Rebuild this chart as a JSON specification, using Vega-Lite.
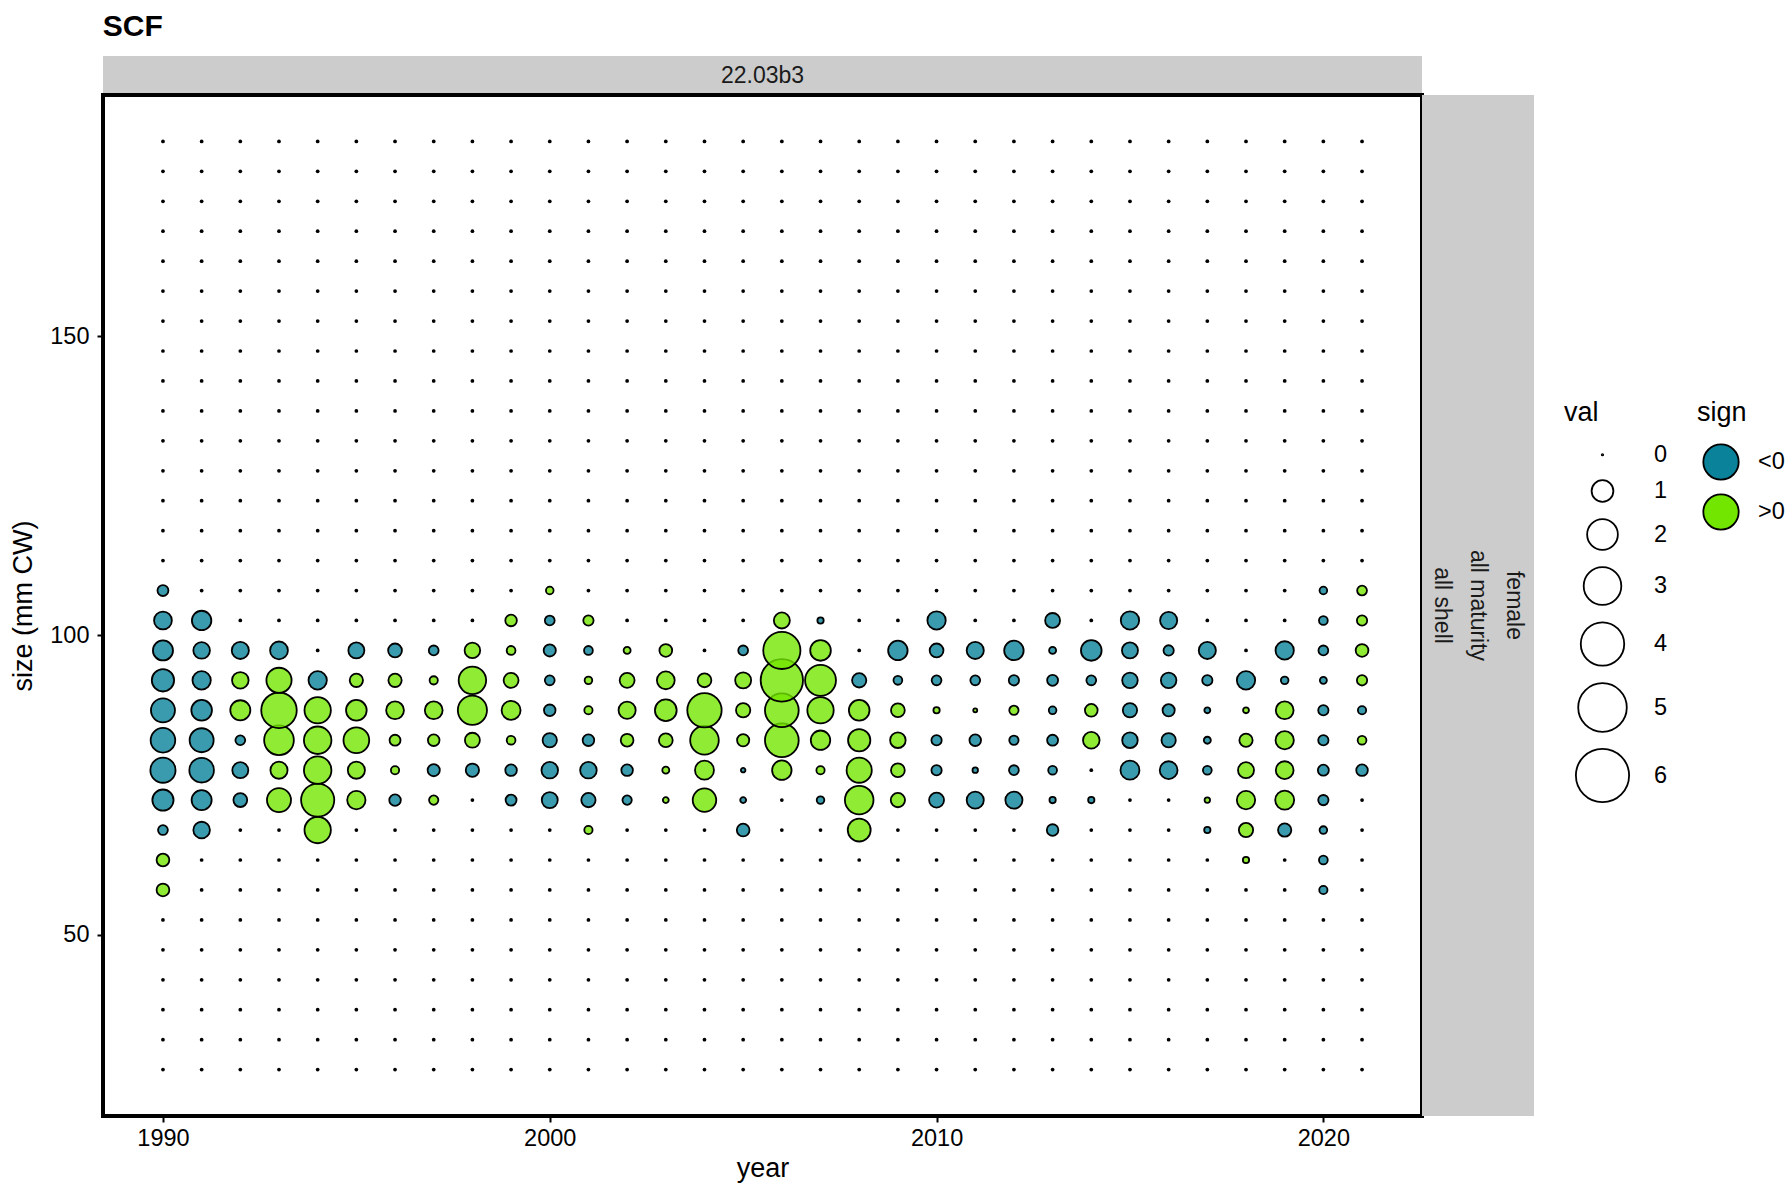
{
"$schema":"https://vega.github.io/schema/vega-lite/v6.json",
"background":"white",
"padding":{"left":7,"top":12,"right":5,"bottom":5},
"title":{"text":"SCF","anchor":"start","fontSize":30,"fontWeight":"bold","font":"Liberation Sans","color":"black","offset":14,"dx":95},
"config":{"font":"Liberation Sans","axis":{"grid":false,"domain":false,"tickColor":"black","tickWidth":2,"tickSize":6,"labelFontSize":23.5,"labelColor":"black","titleFontSize":27,"titleFontWeight":"normal","titleColor":"black","labelFont":"Liberation Sans","titleFont":"Liberation Sans"},"legend":{"titleFontSize":27,"titleFontWeight":"normal","labelFontSize":23.5,"titleColor":"black","labelColor":"black","titleFont":"Liberation Sans","labelFont":"Liberation Sans","titlePadding":16}},
"bounds":"flush",
"spacing":0,
"datasets":{"grid":[
{"year":1990,"size":27.5,"val":0},{"year":1990,"size":32.5,"val":0},{"year":1990,"size":37.5,"val":0},{"year":1990,"size":42.5,"val":0},{"year":1990,"size":47.5,"val":0},{"year":1990,"size":52.5,"val":0},
{"year":1990,"size":57.5,"val":0.34,"sign":">0"},{"year":1990,"size":62.5,"val":0.34,"sign":">0"},{"year":1990,"size":67.5,"val":0.2,"sign":"<0"},{"year":1990,"size":72.5,"val":0.95,"sign":"<0"},{"year":1990,"size":77.5,"val":1.34,"sign":"<0"},{"year":1990,"size":82.5,"val":1.28,"sign":"<0"},{"year":1990,"size":87.5,"val":1.22,"sign":"<0"},{"year":1990,"size":92.5,"val":1.05,"sign":"<0"},{"year":1990,"size":97.5,"val":0.85,"sign":"<0"},{"year":1990,"size":102.5,"val":0.67,"sign":"<0"},{"year":1990,"size":107.5,"val":0.25,"sign":"<0"},
{"year":1990,"size":112.5,"val":0},{"year":1990,"size":117.5,"val":0},{"year":1990,"size":122.5,"val":0},{"year":1990,"size":127.5,"val":0},{"year":1990,"size":132.5,"val":0},{"year":1990,"size":137.5,"val":0},{"year":1990,"size":142.5,"val":0},{"year":1990,"size":147.5,"val":0},{"year":1990,"size":152.5,"val":0},{"year":1990,"size":157.5,"val":0},{"year":1990,"size":162.5,"val":0},{"year":1990,"size":167.5,"val":0},{"year":1990,"size":172.5,"val":0},{"year":1990,"size":177.5,"val":0},{"year":1990,"size":182.5,"val":0},
{"year":1991,"size":27.5,"val":0},{"year":1991,"size":32.5,"val":0},{"year":1991,"size":37.5,"val":0},{"year":1991,"size":42.5,"val":0},{"year":1991,"size":47.5,"val":0},{"year":1991,"size":52.5,"val":0},
{"year":1991,"size":57.5,"val":0},{"year":1991,"size":62.5,"val":0},{"year":1991,"size":67.5,"val":0.58,"sign":"<0"},{"year":1991,"size":72.5,"val":0.85,"sign":"<0"},{"year":1991,"size":77.5,"val":1.28,"sign":"<0"},{"year":1991,"size":82.5,"val":1.22,"sign":"<0"},{"year":1991,"size":87.5,"val":0.9,"sign":"<0"},{"year":1991,"size":92.5,"val":0.71,"sign":"<0"},{"year":1991,"size":97.5,"val":0.58,"sign":"<0"},{"year":1991,"size":102.5,"val":0.8,"sign":"<0"},{"year":1991,"size":107.5,"val":0},
{"year":1991,"size":112.5,"val":0},{"year":1991,"size":117.5,"val":0},{"year":1991,"size":122.5,"val":0},{"year":1991,"size":127.5,"val":0},{"year":1991,"size":132.5,"val":0},{"year":1991,"size":137.5,"val":0},{"year":1991,"size":142.5,"val":0},{"year":1991,"size":147.5,"val":0},{"year":1991,"size":152.5,"val":0},{"year":1991,"size":157.5,"val":0},{"year":1991,"size":162.5,"val":0},{"year":1991,"size":167.5,"val":0},{"year":1991,"size":172.5,"val":0},{"year":1991,"size":177.5,"val":0},{"year":1991,"size":182.5,"val":0},
{"year":1992,"size":27.5,"val":0},{"year":1992,"size":32.5,"val":0},{"year":1992,"size":37.5,"val":0},{"year":1992,"size":42.5,"val":0},{"year":1992,"size":47.5,"val":0},{"year":1992,"size":52.5,"val":0},
{"year":1992,"size":57.5,"val":0},{"year":1992,"size":62.5,"val":0},{"year":1992,"size":67.5,"val":0},{"year":1992,"size":72.5,"val":0.4,"sign":"<0"},{"year":1992,"size":77.5,"val":0.54,"sign":"<0"},{"year":1992,"size":82.5,"val":0.2,"sign":"<0"},{"year":1992,"size":87.5,"val":0.85,"sign":">0"},{"year":1992,"size":92.5,"val":0.58,"sign":">0"},{"year":1992,"size":97.5,"val":0.62,"sign":"<0"},{"year":1992,"size":102.5,"val":0},{"year":1992,"size":107.5,"val":0},
{"year":1992,"size":112.5,"val":0},{"year":1992,"size":117.5,"val":0},{"year":1992,"size":122.5,"val":0},{"year":1992,"size":127.5,"val":0},{"year":1992,"size":132.5,"val":0},{"year":1992,"size":137.5,"val":0},{"year":1992,"size":142.5,"val":0},{"year":1992,"size":147.5,"val":0},{"year":1992,"size":152.5,"val":0},{"year":1992,"size":157.5,"val":0},{"year":1992,"size":162.5,"val":0},{"year":1992,"size":167.5,"val":0},{"year":1992,"size":172.5,"val":0},{"year":1992,"size":177.5,"val":0},{"year":1992,"size":182.5,"val":0},
{"year":1993,"size":27.5,"val":0},{"year":1993,"size":32.5,"val":0},{"year":1993,"size":37.5,"val":0},{"year":1993,"size":42.5,"val":0},{"year":1993,"size":47.5,"val":0},{"year":1993,"size":52.5,"val":0},
{"year":1993,"size":57.5,"val":0},{"year":1993,"size":62.5,"val":0},{"year":1993,"size":67.5,"val":0},{"year":1993,"size":72.5,"val":1.22,"sign":">0"},{"year":1993,"size":77.5,"val":0.62,"sign":">0"},{"year":1993,"size":82.5,"val":1.87,"sign":">0"},{"year":1993,"size":87.5,"val":2.67,"sign":">0"},{"year":1993,"size":92.5,"val":1.34,"sign":">0"},{"year":1993,"size":97.5,"val":0.67,"sign":"<0"},{"year":1993,"size":102.5,"val":0},{"year":1993,"size":107.5,"val":0},
{"year":1993,"size":112.5,"val":0},{"year":1993,"size":117.5,"val":0},{"year":1993,"size":122.5,"val":0},{"year":1993,"size":127.5,"val":0},{"year":1993,"size":132.5,"val":0},{"year":1993,"size":137.5,"val":0},{"year":1993,"size":142.5,"val":0},{"year":1993,"size":147.5,"val":0},{"year":1993,"size":152.5,"val":0},{"year":1993,"size":157.5,"val":0},{"year":1993,"size":162.5,"val":0},{"year":1993,"size":167.5,"val":0},{"year":1993,"size":172.5,"val":0},{"year":1993,"size":177.5,"val":0},{"year":1993,"size":182.5,"val":0},
{"year":1994,"size":27.5,"val":0},{"year":1994,"size":32.5,"val":0},{"year":1994,"size":37.5,"val":0},{"year":1994,"size":42.5,"val":0},{"year":1994,"size":47.5,"val":0},{"year":1994,"size":52.5,"val":0},
{"year":1994,"size":57.5,"val":0},{"year":1994,"size":62.5,"val":0},{"year":1994,"size":67.5,"val":1.47,"sign":">0"},{"year":1994,"size":72.5,"val":2.33,"sign":">0"},{"year":1994,"size":77.5,"val":1.6,"sign":">0"},{"year":1994,"size":82.5,"val":1.6,"sign":">0"},{"year":1994,"size":87.5,"val":1.47,"sign":">0"},{"year":1994,"size":92.5,"val":0.71,"sign":"<0"},{"year":1994,"size":97.5,"val":0},{"year":1994,"size":102.5,"val":0},{"year":1994,"size":107.5,"val":0},
{"year":1994,"size":112.5,"val":0},{"year":1994,"size":117.5,"val":0},{"year":1994,"size":122.5,"val":0},{"year":1994,"size":127.5,"val":0},{"year":1994,"size":132.5,"val":0},{"year":1994,"size":137.5,"val":0},{"year":1994,"size":142.5,"val":0},{"year":1994,"size":147.5,"val":0},{"year":1994,"size":152.5,"val":0},{"year":1994,"size":157.5,"val":0},{"year":1994,"size":162.5,"val":0},{"year":1994,"size":167.5,"val":0},{"year":1994,"size":172.5,"val":0},{"year":1994,"size":177.5,"val":0},{"year":1994,"size":182.5,"val":0},
{"year":1995,"size":27.5,"val":0},{"year":1995,"size":32.5,"val":0},{"year":1995,"size":37.5,"val":0},{"year":1995,"size":42.5,"val":0},{"year":1995,"size":47.5,"val":0},{"year":1995,"size":52.5,"val":0},
{"year":1995,"size":57.5,"val":0},{"year":1995,"size":62.5,"val":0},{"year":1995,"size":67.5,"val":0},{"year":1995,"size":72.5,"val":0.71,"sign":">0"},{"year":1995,"size":77.5,"val":0.62,"sign":">0"},{"year":1995,"size":82.5,"val":1.4,"sign":">0"},{"year":1995,"size":87.5,"val":0.9,"sign":">0"},{"year":1995,"size":92.5,"val":0.37,"sign":">0"},{"year":1995,"size":97.5,"val":0.54,"sign":"<0"},{"year":1995,"size":102.5,"val":0},{"year":1995,"size":107.5,"val":0},
{"year":1995,"size":112.5,"val":0},{"year":1995,"size":117.5,"val":0},{"year":1995,"size":122.5,"val":0},{"year":1995,"size":127.5,"val":0},{"year":1995,"size":132.5,"val":0},{"year":1995,"size":137.5,"val":0},{"year":1995,"size":142.5,"val":0},{"year":1995,"size":147.5,"val":0},{"year":1995,"size":152.5,"val":0},{"year":1995,"size":157.5,"val":0},{"year":1995,"size":162.5,"val":0},{"year":1995,"size":167.5,"val":0},{"year":1995,"size":172.5,"val":0},{"year":1995,"size":177.5,"val":0},{"year":1995,"size":182.5,"val":0},
{"year":1996,"size":27.5,"val":0},{"year":1996,"size":32.5,"val":0},{"year":1996,"size":37.5,"val":0},{"year":1996,"size":42.5,"val":0},{"year":1996,"size":47.5,"val":0},{"year":1996,"size":52.5,"val":0},
{"year":1996,"size":57.5,"val":0},{"year":1996,"size":62.5,"val":0},{"year":1996,"size":67.5,"val":0},{"year":1996,"size":72.5,"val":0.28,"sign":"<0"},{"year":1996,"size":77.5,"val":0.14,"sign":">0"},{"year":1996,"size":82.5,"val":0.25,"sign":">0"},{"year":1996,"size":87.5,"val":0.67,"sign":">0"},{"year":1996,"size":92.5,"val":0.37,"sign":">0"},{"year":1996,"size":97.5,"val":0.4,"sign":"<0"},{"year":1996,"size":102.5,"val":0},{"year":1996,"size":107.5,"val":0},
{"year":1996,"size":112.5,"val":0},{"year":1996,"size":117.5,"val":0},{"year":1996,"size":122.5,"val":0},{"year":1996,"size":127.5,"val":0},{"year":1996,"size":132.5,"val":0},{"year":1996,"size":137.5,"val":0},{"year":1996,"size":142.5,"val":0},{"year":1996,"size":147.5,"val":0},{"year":1996,"size":152.5,"val":0},{"year":1996,"size":157.5,"val":0},{"year":1996,"size":162.5,"val":0},{"year":1996,"size":167.5,"val":0},{"year":1996,"size":172.5,"val":0},{"year":1996,"size":177.5,"val":0},{"year":1996,"size":182.5,"val":0},
{"year":1997,"size":27.5,"val":0},{"year":1997,"size":32.5,"val":0},{"year":1997,"size":37.5,"val":0},{"year":1997,"size":42.5,"val":0},{"year":1997,"size":47.5,"val":0},{"year":1997,"size":52.5,"val":0},
{"year":1997,"size":57.5,"val":0},{"year":1997,"size":62.5,"val":0},{"year":1997,"size":67.5,"val":0},{"year":1997,"size":72.5,"val":0.18,"sign":">0"},{"year":1997,"size":77.5,"val":0.31,"sign":"<0"},{"year":1997,"size":82.5,"val":0.28,"sign":">0"},{"year":1997,"size":87.5,"val":0.67,"sign":">0"},{"year":1997,"size":92.5,"val":0.14,"sign":">0"},{"year":1997,"size":97.5,"val":0.2,"sign":"<0"},{"year":1997,"size":102.5,"val":0},{"year":1997,"size":107.5,"val":0},
{"year":1997,"size":112.5,"val":0},{"year":1997,"size":117.5,"val":0},{"year":1997,"size":122.5,"val":0},{"year":1997,"size":127.5,"val":0},{"year":1997,"size":132.5,"val":0},{"year":1997,"size":137.5,"val":0},{"year":1997,"size":142.5,"val":0},{"year":1997,"size":147.5,"val":0},{"year":1997,"size":152.5,"val":0},{"year":1997,"size":157.5,"val":0},{"year":1997,"size":162.5,"val":0},{"year":1997,"size":167.5,"val":0},{"year":1997,"size":172.5,"val":0},{"year":1997,"size":177.5,"val":0},{"year":1997,"size":182.5,"val":0},
{"year":1998,"size":27.5,"val":0},{"year":1998,"size":32.5,"val":0},{"year":1998,"size":37.5,"val":0},{"year":1998,"size":42.5,"val":0},{"year":1998,"size":47.5,"val":0},{"year":1998,"size":52.5,"val":0},
{"year":1998,"size":57.5,"val":0},{"year":1998,"size":62.5,"val":0},{"year":1998,"size":67.5,"val":0},{"year":1998,"size":72.5,"val":0},{"year":1998,"size":77.5,"val":0.37,"sign":"<0"},{"year":1998,"size":82.5,"val":0.47,"sign":">0"},{"year":1998,"size":87.5,"val":1.8,"sign":">0"},{"year":1998,"size":92.5,"val":1.6,"sign":">0"},{"year":1998,"size":97.5,"val":0.51,"sign":">0"},{"year":1998,"size":102.5,"val":0},{"year":1998,"size":107.5,"val":0},
{"year":1998,"size":112.5,"val":0},{"year":1998,"size":117.5,"val":0},{"year":1998,"size":122.5,"val":0},{"year":1998,"size":127.5,"val":0},{"year":1998,"size":132.5,"val":0},{"year":1998,"size":137.5,"val":0},{"year":1998,"size":142.5,"val":0},{"year":1998,"size":147.5,"val":0},{"year":1998,"size":152.5,"val":0},{"year":1998,"size":157.5,"val":0},{"year":1998,"size":162.5,"val":0},{"year":1998,"size":167.5,"val":0},{"year":1998,"size":172.5,"val":0},{"year":1998,"size":177.5,"val":0},{"year":1998,"size":182.5,"val":0},
{"year":1999,"size":27.5,"val":0},{"year":1999,"size":32.5,"val":0},{"year":1999,"size":37.5,"val":0},{"year":1999,"size":42.5,"val":0},{"year":1999,"size":47.5,"val":0},{"year":1999,"size":52.5,"val":0},
{"year":1999,"size":57.5,"val":0},{"year":1999,"size":62.5,"val":0},{"year":1999,"size":67.5,"val":0},{"year":1999,"size":72.5,"val":0.25,"sign":"<0"},{"year":1999,"size":77.5,"val":0.28,"sign":"<0"},{"year":1999,"size":82.5,"val":0.16,"sign":">0"},{"year":1999,"size":87.5,"val":0.76,"sign":">0"},{"year":1999,"size":92.5,"val":0.47,"sign":">0"},{"year":1999,"size":97.5,"val":0.16,"sign":">0"},{"year":1999,"size":102.5,"val":0.28,"sign":">0"},{"year":1999,"size":107.5,"val":0},
{"year":1999,"size":112.5,"val":0},{"year":1999,"size":117.5,"val":0},{"year":1999,"size":122.5,"val":0},{"year":1999,"size":127.5,"val":0},{"year":1999,"size":132.5,"val":0},{"year":1999,"size":137.5,"val":0},{"year":1999,"size":142.5,"val":0},{"year":1999,"size":147.5,"val":0},{"year":1999,"size":152.5,"val":0},{"year":1999,"size":157.5,"val":0},{"year":1999,"size":162.5,"val":0},{"year":1999,"size":167.5,"val":0},{"year":1999,"size":172.5,"val":0},{"year":1999,"size":177.5,"val":0},{"year":1999,"size":182.5,"val":0},
{"year":2000,"size":27.5,"val":0},{"year":2000,"size":32.5,"val":0},{"year":2000,"size":37.5,"val":0},{"year":2000,"size":42.5,"val":0},{"year":2000,"size":47.5,"val":0},{"year":2000,"size":52.5,"val":0},
{"year":2000,"size":57.5,"val":0},{"year":2000,"size":62.5,"val":0},{"year":2000,"size":67.5,"val":0},{"year":2000,"size":72.5,"val":0.54,"sign":"<0"},{"year":2000,"size":77.5,"val":0.58,"sign":"<0"},{"year":2000,"size":82.5,"val":0.43,"sign":"<0"},{"year":2000,"size":87.5,"val":0.28,"sign":"<0"},{"year":2000,"size":92.5,"val":0.2,"sign":"<0"},{"year":2000,"size":97.5,"val":0.31,"sign":"<0"},{"year":2000,"size":102.5,"val":0.2,"sign":"<0"},{"year":2000,"size":107.5,"val":0.12,"sign":">0"},
{"year":2000,"size":112.5,"val":0},{"year":2000,"size":117.5,"val":0},{"year":2000,"size":122.5,"val":0},{"year":2000,"size":127.5,"val":0},{"year":2000,"size":132.5,"val":0},{"year":2000,"size":137.5,"val":0},{"year":2000,"size":142.5,"val":0},{"year":2000,"size":147.5,"val":0},{"year":2000,"size":152.5,"val":0},{"year":2000,"size":157.5,"val":0},{"year":2000,"size":162.5,"val":0},{"year":2000,"size":167.5,"val":0},{"year":2000,"size":172.5,"val":0},{"year":2000,"size":177.5,"val":0},{"year":2000,"size":182.5,"val":0},
{"year":2001,"size":27.5,"val":0},{"year":2001,"size":32.5,"val":0},{"year":2001,"size":37.5,"val":0},{"year":2001,"size":42.5,"val":0},{"year":2001,"size":47.5,"val":0},{"year":2001,"size":52.5,"val":0},
{"year":2001,"size":57.5,"val":0},{"year":2001,"size":62.5,"val":0},{"year":2001,"size":67.5,"val":0.14,"sign":">0"},{"year":2001,"size":72.5,"val":0.43,"sign":"<0"},{"year":2001,"size":77.5,"val":0.58,"sign":"<0"},{"year":2001,"size":82.5,"val":0.28,"sign":"<0"},{"year":2001,"size":87.5,"val":0.14,"sign":">0"},{"year":2001,"size":92.5,"val":0.12,"sign":">0"},{"year":2001,"size":97.5,"val":0.16,"sign":"<0"},{"year":2001,"size":102.5,"val":0.22,"sign":">0"},{"year":2001,"size":107.5,"val":0},
{"year":2001,"size":112.5,"val":0},{"year":2001,"size":117.5,"val":0},{"year":2001,"size":122.5,"val":0},{"year":2001,"size":127.5,"val":0},{"year":2001,"size":132.5,"val":0},{"year":2001,"size":137.5,"val":0},{"year":2001,"size":142.5,"val":0},{"year":2001,"size":147.5,"val":0},{"year":2001,"size":152.5,"val":0},{"year":2001,"size":157.5,"val":0},{"year":2001,"size":162.5,"val":0},{"year":2001,"size":167.5,"val":0},{"year":2001,"size":172.5,"val":0},{"year":2001,"size":177.5,"val":0},{"year":2001,"size":182.5,"val":0},
{"year":2002,"size":27.5,"val":0},{"year":2002,"size":32.5,"val":0},{"year":2002,"size":37.5,"val":0},{"year":2002,"size":42.5,"val":0},{"year":2002,"size":47.5,"val":0},{"year":2002,"size":52.5,"val":0},
{"year":2002,"size":57.5,"val":0},{"year":2002,"size":62.5,"val":0},{"year":2002,"size":67.5,"val":0},{"year":2002,"size":72.5,"val":0.18,"sign":"<0"},{"year":2002,"size":77.5,"val":0.28,"sign":"<0"},{"year":2002,"size":82.5,"val":0.34,"sign":">0"},{"year":2002,"size":87.5,"val":0.62,"sign":">0"},{"year":2002,"size":92.5,"val":0.47,"sign":">0"},{"year":2002,"size":97.5,"val":0.1,"sign":">0"},{"year":2002,"size":102.5,"val":0},{"year":2002,"size":107.5,"val":0},
{"year":2002,"size":112.5,"val":0},{"year":2002,"size":117.5,"val":0},{"year":2002,"size":122.5,"val":0},{"year":2002,"size":127.5,"val":0},{"year":2002,"size":132.5,"val":0},{"year":2002,"size":137.5,"val":0},{"year":2002,"size":142.5,"val":0},{"year":2002,"size":147.5,"val":0},{"year":2002,"size":152.5,"val":0},{"year":2002,"size":157.5,"val":0},{"year":2002,"size":162.5,"val":0},{"year":2002,"size":167.5,"val":0},{"year":2002,"size":172.5,"val":0},{"year":2002,"size":177.5,"val":0},{"year":2002,"size":182.5,"val":0},
{"year":2003,"size":27.5,"val":0},{"year":2003,"size":32.5,"val":0},{"year":2003,"size":37.5,"val":0},{"year":2003,"size":42.5,"val":0},{"year":2003,"size":47.5,"val":0},{"year":2003,"size":52.5,"val":0},
{"year":2003,"size":57.5,"val":0},{"year":2003,"size":62.5,"val":0},{"year":2003,"size":67.5,"val":0},{"year":2003,"size":72.5,"val":0.07,"sign":">0"},{"year":2003,"size":77.5,"val":0.1,"sign":">0"},{"year":2003,"size":82.5,"val":0.4,"sign":">0"},{"year":2003,"size":87.5,"val":1.0,"sign":">0"},{"year":2003,"size":92.5,"val":0.67,"sign":">0"},{"year":2003,"size":97.5,"val":0.34,"sign":">0"},{"year":2003,"size":102.5,"val":0},{"year":2003,"size":107.5,"val":0},
{"year":2003,"size":112.5,"val":0},{"year":2003,"size":117.5,"val":0},{"year":2003,"size":122.5,"val":0},{"year":2003,"size":127.5,"val":0},{"year":2003,"size":132.5,"val":0},{"year":2003,"size":137.5,"val":0},{"year":2003,"size":142.5,"val":0},{"year":2003,"size":147.5,"val":0},{"year":2003,"size":152.5,"val":0},{"year":2003,"size":157.5,"val":0},{"year":2003,"size":162.5,"val":0},{"year":2003,"size":167.5,"val":0},{"year":2003,"size":172.5,"val":0},{"year":2003,"size":177.5,"val":0},{"year":2003,"size":182.5,"val":0},
{"year":2004,"size":27.5,"val":0},{"year":2004,"size":32.5,"val":0},{"year":2004,"size":37.5,"val":0},{"year":2004,"size":42.5,"val":0},{"year":2004,"size":47.5,"val":0},{"year":2004,"size":52.5,"val":0},
{"year":2004,"size":57.5,"val":0},{"year":2004,"size":62.5,"val":0},{"year":2004,"size":67.5,"val":0},{"year":2004,"size":72.5,"val":1.17,"sign":">0"},{"year":2004,"size":77.5,"val":0.76,"sign":">0"},{"year":2004,"size":82.5,"val":1.73,"sign":">0"},{"year":2004,"size":87.5,"val":2.5,"sign":">0"},{"year":2004,"size":92.5,"val":0.4,"sign":">0"},{"year":2004,"size":97.5,"val":0},{"year":2004,"size":102.5,"val":0},{"year":2004,"size":107.5,"val":0},
{"year":2004,"size":112.5,"val":0},{"year":2004,"size":117.5,"val":0},{"year":2004,"size":122.5,"val":0},{"year":2004,"size":127.5,"val":0},{"year":2004,"size":132.5,"val":0},{"year":2004,"size":137.5,"val":0},{"year":2004,"size":142.5,"val":0},{"year":2004,"size":147.5,"val":0},{"year":2004,"size":152.5,"val":0},{"year":2004,"size":157.5,"val":0},{"year":2004,"size":162.5,"val":0},{"year":2004,"size":167.5,"val":0},{"year":2004,"size":172.5,"val":0},{"year":2004,"size":177.5,"val":0},{"year":2004,"size":182.5,"val":0},
{"year":2005,"size":27.5,"val":0},{"year":2005,"size":32.5,"val":0},{"year":2005,"size":37.5,"val":0},{"year":2005,"size":42.5,"val":0},{"year":2005,"size":47.5,"val":0},{"year":2005,"size":52.5,"val":0},
{"year":2005,"size":57.5,"val":0},{"year":2005,"size":62.5,"val":0},{"year":2005,"size":67.5,"val":0.34,"sign":"<0"},{"year":2005,"size":72.5,"val":0.07,"sign":"<0"},{"year":2005,"size":77.5,"val":0.04,"sign":"<0"},{"year":2005,"size":82.5,"val":0.31,"sign":">0"},{"year":2005,"size":87.5,"val":0.43,"sign":">0"},{"year":2005,"size":92.5,"val":0.54,"sign":">0"},{"year":2005,"size":97.5,"val":0.2,"sign":"<0"},{"year":2005,"size":102.5,"val":0},{"year":2005,"size":107.5,"val":0},
{"year":2005,"size":112.5,"val":0},{"year":2005,"size":117.5,"val":0},{"year":2005,"size":122.5,"val":0},{"year":2005,"size":127.5,"val":0},{"year":2005,"size":132.5,"val":0},{"year":2005,"size":137.5,"val":0},{"year":2005,"size":142.5,"val":0},{"year":2005,"size":147.5,"val":0},{"year":2005,"size":152.5,"val":0},{"year":2005,"size":157.5,"val":0},{"year":2005,"size":162.5,"val":0},{"year":2005,"size":167.5,"val":0},{"year":2005,"size":172.5,"val":0},{"year":2005,"size":177.5,"val":0},{"year":2005,"size":182.5,"val":0},
{"year":2006,"size":27.5,"val":0},{"year":2006,"size":32.5,"val":0},{"year":2006,"size":37.5,"val":0},{"year":2006,"size":42.5,"val":0},{"year":2006,"size":47.5,"val":0},{"year":2006,"size":52.5,"val":0},
{"year":2006,"size":57.5,"val":0},{"year":2006,"size":62.5,"val":0},{"year":2006,"size":67.5,"val":0},{"year":2006,"size":72.5,"val":0},{"year":2006,"size":77.5,"val":0.8,"sign":">0"},{"year":2006,"size":82.5,"val":2.41,"sign":">0"},{"year":2006,"size":87.5,"val":2.41,"sign":">0"},{"year":2006,"size":92.5,"val":3.8,"sign":">0"},{"year":2006,"size":97.5,"val":2.93,"sign":">0"},{"year":2006,"size":102.5,"val":0.54,"sign":">0"},{"year":2006,"size":107.5,"val":0},
{"year":2006,"size":112.5,"val":0},{"year":2006,"size":117.5,"val":0},{"year":2006,"size":122.5,"val":0},{"year":2006,"size":127.5,"val":0},{"year":2006,"size":132.5,"val":0},{"year":2006,"size":137.5,"val":0},{"year":2006,"size":142.5,"val":0},{"year":2006,"size":147.5,"val":0},{"year":2006,"size":152.5,"val":0},{"year":2006,"size":157.5,"val":0},{"year":2006,"size":162.5,"val":0},{"year":2006,"size":167.5,"val":0},{"year":2006,"size":172.5,"val":0},{"year":2006,"size":177.5,"val":0},{"year":2006,"size":182.5,"val":0},
{"year":2007,"size":27.5,"val":0},{"year":2007,"size":32.5,"val":0},{"year":2007,"size":37.5,"val":0},{"year":2007,"size":42.5,"val":0},{"year":2007,"size":47.5,"val":0},{"year":2007,"size":52.5,"val":0},
{"year":2007,"size":57.5,"val":0},{"year":2007,"size":62.5,"val":0},{"year":2007,"size":67.5,"val":0},{"year":2007,"size":72.5,"val":0.12,"sign":"<0"},{"year":2007,"size":77.5,"val":0.14,"sign":">0"},{"year":2007,"size":82.5,"val":0.8,"sign":">0"},{"year":2007,"size":87.5,"val":1.47,"sign":">0"},{"year":2007,"size":92.5,"val":2.02,"sign":">0"},{"year":2007,"size":97.5,"val":0.9,"sign":">0"},{"year":2007,"size":102.5,"val":0.08,"sign":"<0"},{"year":2007,"size":107.5,"val":0},
{"year":2007,"size":112.5,"val":0},{"year":2007,"size":117.5,"val":0},{"year":2007,"size":122.5,"val":0},{"year":2007,"size":127.5,"val":0},{"year":2007,"size":132.5,"val":0},{"year":2007,"size":137.5,"val":0},{"year":2007,"size":142.5,"val":0},{"year":2007,"size":147.5,"val":0},{"year":2007,"size":152.5,"val":0},{"year":2007,"size":157.5,"val":0},{"year":2007,"size":162.5,"val":0},{"year":2007,"size":167.5,"val":0},{"year":2007,"size":172.5,"val":0},{"year":2007,"size":177.5,"val":0},{"year":2007,"size":182.5,"val":0},
{"year":2008,"size":27.5,"val":0},{"year":2008,"size":32.5,"val":0},{"year":2008,"size":37.5,"val":0},{"year":2008,"size":42.5,"val":0},{"year":2008,"size":47.5,"val":0},{"year":2008,"size":52.5,"val":0},
{"year":2008,"size":57.5,"val":0},{"year":2008,"size":62.5,"val":0},{"year":2008,"size":67.5,"val":1.11,"sign":">0"},{"year":2008,"size":72.5,"val":1.73,"sign":">0"},{"year":2008,"size":77.5,"val":1.34,"sign":">0"},{"year":2008,"size":82.5,"val":1.05,"sign":">0"},{"year":2008,"size":87.5,"val":0.9,"sign":">0"},{"year":2008,"size":92.5,"val":0.43,"sign":"<0"},{"year":2008,"size":97.5,"val":0},{"year":2008,"size":102.5,"val":0},{"year":2008,"size":107.5,"val":0},
{"year":2008,"size":112.5,"val":0},{"year":2008,"size":117.5,"val":0},{"year":2008,"size":122.5,"val":0},{"year":2008,"size":127.5,"val":0},{"year":2008,"size":132.5,"val":0},{"year":2008,"size":137.5,"val":0},{"year":2008,"size":142.5,"val":0},{"year":2008,"size":147.5,"val":0},{"year":2008,"size":152.5,"val":0},{"year":2008,"size":157.5,"val":0},{"year":2008,"size":162.5,"val":0},{"year":2008,"size":167.5,"val":0},{"year":2008,"size":172.5,"val":0},{"year":2008,"size":177.5,"val":0},{"year":2008,"size":182.5,"val":0},
{"year":2009,"size":27.5,"val":0},{"year":2009,"size":32.5,"val":0},{"year":2009,"size":37.5,"val":0},{"year":2009,"size":42.5,"val":0},{"year":2009,"size":47.5,"val":0},{"year":2009,"size":52.5,"val":0},
{"year":2009,"size":57.5,"val":0},{"year":2009,"size":62.5,"val":0},{"year":2009,"size":67.5,"val":0},{"year":2009,"size":72.5,"val":0.43,"sign":">0"},{"year":2009,"size":77.5,"val":0.4,"sign":">0"},{"year":2009,"size":82.5,"val":0.51,"sign":">0"},{"year":2009,"size":87.5,"val":0.4,"sign":">0"},{"year":2009,"size":92.5,"val":0.16,"sign":"<0"},{"year":2009,"size":97.5,"val":0.8,"sign":"<0"},{"year":2009,"size":102.5,"val":0},{"year":2009,"size":107.5,"val":0},
{"year":2009,"size":112.5,"val":0},{"year":2009,"size":117.5,"val":0},{"year":2009,"size":122.5,"val":0},{"year":2009,"size":127.5,"val":0},{"year":2009,"size":132.5,"val":0},{"year":2009,"size":137.5,"val":0},{"year":2009,"size":142.5,"val":0},{"year":2009,"size":147.5,"val":0},{"year":2009,"size":152.5,"val":0},{"year":2009,"size":157.5,"val":0},{"year":2009,"size":162.5,"val":0},{"year":2009,"size":167.5,"val":0},{"year":2009,"size":172.5,"val":0},{"year":2009,"size":177.5,"val":0},{"year":2009,"size":182.5,"val":0},
{"year":2010,"size":27.5,"val":0},{"year":2010,"size":32.5,"val":0},{"year":2010,"size":37.5,"val":0},{"year":2010,"size":42.5,"val":0},{"year":2010,"size":47.5,"val":0},{"year":2010,"size":52.5,"val":0},
{"year":2010,"size":57.5,"val":0},{"year":2010,"size":62.5,"val":0},{"year":2010,"size":67.5,"val":0},{"year":2010,"size":72.5,"val":0.47,"sign":"<0"},{"year":2010,"size":77.5,"val":0.22,"sign":"<0"},{"year":2010,"size":82.5,"val":0.22,"sign":"<0"},{"year":2010,"size":87.5,"val":0.08,"sign":">0"},{"year":2010,"size":92.5,"val":0.2,"sign":"<0"},{"year":2010,"size":97.5,"val":0.4,"sign":"<0"},{"year":2010,"size":102.5,"val":0.71,"sign":"<0"},{"year":2010,"size":107.5,"val":0},
{"year":2010,"size":112.5,"val":0},{"year":2010,"size":117.5,"val":0},{"year":2010,"size":122.5,"val":0},{"year":2010,"size":127.5,"val":0},{"year":2010,"size":132.5,"val":0},{"year":2010,"size":137.5,"val":0},{"year":2010,"size":142.5,"val":0},{"year":2010,"size":147.5,"val":0},{"year":2010,"size":152.5,"val":0},{"year":2010,"size":157.5,"val":0},{"year":2010,"size":162.5,"val":0},{"year":2010,"size":167.5,"val":0},{"year":2010,"size":172.5,"val":0},{"year":2010,"size":177.5,"val":0},{"year":2010,"size":182.5,"val":0},
{"year":2011,"size":27.5,"val":0},{"year":2011,"size":32.5,"val":0},{"year":2011,"size":37.5,"val":0},{"year":2011,"size":42.5,"val":0},{"year":2011,"size":47.5,"val":0},{"year":2011,"size":52.5,"val":0},
{"year":2011,"size":57.5,"val":0},{"year":2011,"size":62.5,"val":0},{"year":2011,"size":67.5,"val":0},{"year":2011,"size":72.5,"val":0.62,"sign":"<0"},{"year":2011,"size":77.5,"val":0.06,"sign":"<0"},{"year":2011,"size":82.5,"val":0.28,"sign":"<0"},{"year":2011,"size":87.5,"val":0.03,"sign":">0"},{"year":2011,"size":92.5,"val":0.2,"sign":"<0"},{"year":2011,"size":97.5,"val":0.62,"sign":"<0"},{"year":2011,"size":102.5,"val":0},{"year":2011,"size":107.5,"val":0},
{"year":2011,"size":112.5,"val":0},{"year":2011,"size":117.5,"val":0},{"year":2011,"size":122.5,"val":0},{"year":2011,"size":127.5,"val":0},{"year":2011,"size":132.5,"val":0},{"year":2011,"size":137.5,"val":0},{"year":2011,"size":142.5,"val":0},{"year":2011,"size":147.5,"val":0},{"year":2011,"size":152.5,"val":0},{"year":2011,"size":157.5,"val":0},{"year":2011,"size":162.5,"val":0},{"year":2011,"size":167.5,"val":0},{"year":2011,"size":172.5,"val":0},{"year":2011,"size":177.5,"val":0},{"year":2011,"size":182.5,"val":0},
{"year":2012,"size":27.5,"val":0},{"year":2012,"size":32.5,"val":0},{"year":2012,"size":37.5,"val":0},{"year":2012,"size":42.5,"val":0},{"year":2012,"size":47.5,"val":0},{"year":2012,"size":52.5,"val":0},
{"year":2012,"size":57.5,"val":0},{"year":2012,"size":62.5,"val":0},{"year":2012,"size":67.5,"val":0},{"year":2012,"size":72.5,"val":0.62,"sign":"<0"},{"year":2012,"size":77.5,"val":0.2,"sign":"<0"},{"year":2012,"size":82.5,"val":0.18,"sign":"<0"},{"year":2012,"size":87.5,"val":0.18,"sign":">0"},{"year":2012,"size":92.5,"val":0.22,"sign":"<0"},{"year":2012,"size":97.5,"val":0.8,"sign":"<0"},{"year":2012,"size":102.5,"val":0},{"year":2012,"size":107.5,"val":0},
{"year":2012,"size":112.5,"val":0},{"year":2012,"size":117.5,"val":0},{"year":2012,"size":122.5,"val":0},{"year":2012,"size":127.5,"val":0},{"year":2012,"size":132.5,"val":0},{"year":2012,"size":137.5,"val":0},{"year":2012,"size":142.5,"val":0},{"year":2012,"size":147.5,"val":0},{"year":2012,"size":152.5,"val":0},{"year":2012,"size":157.5,"val":0},{"year":2012,"size":162.5,"val":0},{"year":2012,"size":167.5,"val":0},{"year":2012,"size":172.5,"val":0},{"year":2012,"size":177.5,"val":0},{"year":2012,"size":182.5,"val":0},
{"year":2013,"size":27.5,"val":0},{"year":2013,"size":32.5,"val":0},{"year":2013,"size":37.5,"val":0},{"year":2013,"size":42.5,"val":0},{"year":2013,"size":47.5,"val":0},{"year":2013,"size":52.5,"val":0},
{"year":2013,"size":57.5,"val":0},{"year":2013,"size":62.5,"val":0},{"year":2013,"size":67.5,"val":0.28,"sign":"<0"},{"year":2013,"size":72.5,"val":0.08,"sign":"<0"},{"year":2013,"size":77.5,"val":0.16,"sign":"<0"},{"year":2013,"size":82.5,"val":0.25,"sign":"<0"},{"year":2013,"size":87.5,"val":0.12,"sign":"<0"},{"year":2013,"size":92.5,"val":0.25,"sign":"<0"},{"year":2013,"size":97.5,"val":0.1,"sign":"<0"},{"year":2013,"size":102.5,"val":0.47,"sign":"<0"},{"year":2013,"size":107.5,"val":0},
{"year":2013,"size":112.5,"val":0},{"year":2013,"size":117.5,"val":0},{"year":2013,"size":122.5,"val":0},{"year":2013,"size":127.5,"val":0},{"year":2013,"size":132.5,"val":0},{"year":2013,"size":137.5,"val":0},{"year":2013,"size":142.5,"val":0},{"year":2013,"size":147.5,"val":0},{"year":2013,"size":152.5,"val":0},{"year":2013,"size":157.5,"val":0},{"year":2013,"size":162.5,"val":0},{"year":2013,"size":167.5,"val":0},{"year":2013,"size":172.5,"val":0},{"year":2013,"size":177.5,"val":0},{"year":2013,"size":182.5,"val":0},
{"year":2014,"size":27.5,"val":0},{"year":2014,"size":32.5,"val":0},{"year":2014,"size":37.5,"val":0},{"year":2014,"size":42.5,"val":0},{"year":2014,"size":47.5,"val":0},{"year":2014,"size":52.5,"val":0},
{"year":2014,"size":57.5,"val":0},{"year":2014,"size":62.5,"val":0},{"year":2014,"size":67.5,"val":0},{"year":2014,"size":72.5,"val":0.08,"sign":"<0"},{"year":2014,"size":77.5,"val":0},{"year":2014,"size":82.5,"val":0.58,"sign":">0"},{"year":2014,"size":87.5,"val":0.34,"sign":">0"},{"year":2014,"size":92.5,"val":0.2,"sign":"<0"},{"year":2014,"size":97.5,"val":0.9,"sign":"<0"},{"year":2014,"size":102.5,"val":0},{"year":2014,"size":107.5,"val":0},
{"year":2014,"size":112.5,"val":0},{"year":2014,"size":117.5,"val":0},{"year":2014,"size":122.5,"val":0},{"year":2014,"size":127.5,"val":0},{"year":2014,"size":132.5,"val":0},{"year":2014,"size":137.5,"val":0},{"year":2014,"size":142.5,"val":0},{"year":2014,"size":147.5,"val":0},{"year":2014,"size":152.5,"val":0},{"year":2014,"size":157.5,"val":0},{"year":2014,"size":162.5,"val":0},{"year":2014,"size":167.5,"val":0},{"year":2014,"size":172.5,"val":0},{"year":2014,"size":177.5,"val":0},{"year":2014,"size":182.5,"val":0},
{"year":2015,"size":27.5,"val":0},{"year":2015,"size":32.5,"val":0},{"year":2015,"size":37.5,"val":0},{"year":2015,"size":42.5,"val":0},{"year":2015,"size":47.5,"val":0},{"year":2015,"size":52.5,"val":0},
{"year":2015,"size":57.5,"val":0},{"year":2015,"size":62.5,"val":0},{"year":2015,"size":67.5,"val":0},{"year":2015,"size":72.5,"val":0},{"year":2015,"size":77.5,"val":0.76,"sign":"<0"},{"year":2015,"size":82.5,"val":0.51,"sign":"<0"},{"year":2015,"size":87.5,"val":0.43,"sign":"<0"},{"year":2015,"size":92.5,"val":0.51,"sign":"<0"},{"year":2015,"size":97.5,"val":0.54,"sign":"<0"},{"year":2015,"size":102.5,"val":0.71,"sign":"<0"},{"year":2015,"size":107.5,"val":0},
{"year":2015,"size":112.5,"val":0},{"year":2015,"size":117.5,"val":0},{"year":2015,"size":122.5,"val":0},{"year":2015,"size":127.5,"val":0},{"year":2015,"size":132.5,"val":0},{"year":2015,"size":137.5,"val":0},{"year":2015,"size":142.5,"val":0},{"year":2015,"size":147.5,"val":0},{"year":2015,"size":152.5,"val":0},{"year":2015,"size":157.5,"val":0},{"year":2015,"size":162.5,"val":0},{"year":2015,"size":167.5,"val":0},{"year":2015,"size":172.5,"val":0},{"year":2015,"size":177.5,"val":0},{"year":2015,"size":182.5,"val":0},
{"year":2016,"size":27.5,"val":0},{"year":2016,"size":32.5,"val":0},{"year":2016,"size":37.5,"val":0},{"year":2016,"size":42.5,"val":0},{"year":2016,"size":47.5,"val":0},{"year":2016,"size":52.5,"val":0},
{"year":2016,"size":57.5,"val":0},{"year":2016,"size":62.5,"val":0},{"year":2016,"size":67.5,"val":0},{"year":2016,"size":72.5,"val":0},{"year":2016,"size":77.5,"val":0.67,"sign":"<0"},{"year":2016,"size":82.5,"val":0.43,"sign":"<0"},{"year":2016,"size":87.5,"val":0.31,"sign":"<0"},{"year":2016,"size":92.5,"val":0.51,"sign":"<0"},{"year":2016,"size":97.5,"val":0.22,"sign":"<0"},{"year":2016,"size":102.5,"val":0.62,"sign":"<0"},{"year":2016,"size":107.5,"val":0},
{"year":2016,"size":112.5,"val":0},{"year":2016,"size":117.5,"val":0},{"year":2016,"size":122.5,"val":0},{"year":2016,"size":127.5,"val":0},{"year":2016,"size":132.5,"val":0},{"year":2016,"size":137.5,"val":0},{"year":2016,"size":142.5,"val":0},{"year":2016,"size":147.5,"val":0},{"year":2016,"size":152.5,"val":0},{"year":2016,"size":157.5,"val":0},{"year":2016,"size":162.5,"val":0},{"year":2016,"size":167.5,"val":0},{"year":2016,"size":172.5,"val":0},{"year":2016,"size":177.5,"val":0},{"year":2016,"size":182.5,"val":0},
{"year":2017,"size":27.5,"val":0},{"year":2017,"size":32.5,"val":0},{"year":2017,"size":37.5,"val":0},{"year":2017,"size":42.5,"val":0},{"year":2017,"size":47.5,"val":0},{"year":2017,"size":52.5,"val":0},
{"year":2017,"size":57.5,"val":0},{"year":2017,"size":62.5,"val":0},{"year":2017,"size":67.5,"val":0.08,"sign":"<0"},{"year":2017,"size":72.5,"val":0.06,"sign":">0"},{"year":2017,"size":77.5,"val":0.16,"sign":"<0"},{"year":2017,"size":82.5,"val":0.1,"sign":"<0"},{"year":2017,"size":87.5,"val":0.07,"sign":"<0"},{"year":2017,"size":92.5,"val":0.22,"sign":"<0"},{"year":2017,"size":97.5,"val":0.62,"sign":"<0"},{"year":2017,"size":102.5,"val":0},{"year":2017,"size":107.5,"val":0},
{"year":2017,"size":112.5,"val":0},{"year":2017,"size":117.5,"val":0},{"year":2017,"size":122.5,"val":0},{"year":2017,"size":127.5,"val":0},{"year":2017,"size":132.5,"val":0},{"year":2017,"size":137.5,"val":0},{"year":2017,"size":142.5,"val":0},{"year":2017,"size":147.5,"val":0},{"year":2017,"size":152.5,"val":0},{"year":2017,"size":157.5,"val":0},{"year":2017,"size":162.5,"val":0},{"year":2017,"size":167.5,"val":0},{"year":2017,"size":172.5,"val":0},{"year":2017,"size":177.5,"val":0},{"year":2017,"size":182.5,"val":0},
{"year":2018,"size":27.5,"val":0},{"year":2018,"size":32.5,"val":0},{"year":2018,"size":37.5,"val":0},{"year":2018,"size":42.5,"val":0},{"year":2018,"size":47.5,"val":0},{"year":2018,"size":52.5,"val":0},
{"year":2018,"size":57.5,"val":0},{"year":2018,"size":62.5,"val":0.08,"sign":">0"},{"year":2018,"size":67.5,"val":0.43,"sign":">0"},{"year":2018,"size":72.5,"val":0.71,"sign":">0"},{"year":2018,"size":77.5,"val":0.54,"sign":">0"},{"year":2018,"size":82.5,"val":0.37,"sign":">0"},{"year":2018,"size":87.5,"val":0.07,"sign":">0"},{"year":2018,"size":92.5,"val":0.71,"sign":"<0"},{"year":2018,"size":97.5,"val":0},{"year":2018,"size":102.5,"val":0},{"year":2018,"size":107.5,"val":0},
{"year":2018,"size":112.5,"val":0},{"year":2018,"size":117.5,"val":0},{"year":2018,"size":122.5,"val":0},{"year":2018,"size":127.5,"val":0},{"year":2018,"size":132.5,"val":0},{"year":2018,"size":137.5,"val":0},{"year":2018,"size":142.5,"val":0},{"year":2018,"size":147.5,"val":0},{"year":2018,"size":152.5,"val":0},{"year":2018,"size":157.5,"val":0},{"year":2018,"size":162.5,"val":0},{"year":2018,"size":167.5,"val":0},{"year":2018,"size":172.5,"val":0},{"year":2018,"size":177.5,"val":0},{"year":2018,"size":182.5,"val":0},
{"year":2019,"size":27.5,"val":0},{"year":2019,"size":32.5,"val":0},{"year":2019,"size":37.5,"val":0},{"year":2019,"size":42.5,"val":0},{"year":2019,"size":47.5,"val":0},{"year":2019,"size":52.5,"val":0},
{"year":2019,"size":57.5,"val":0},{"year":2019,"size":62.5,"val":0},{"year":2019,"size":67.5,"val":0.37,"sign":"<0"},{"year":2019,"size":72.5,"val":0.76,"sign":">0"},{"year":2019,"size":77.5,"val":0.67,"sign":">0"},{"year":2019,"size":82.5,"val":0.71,"sign":">0"},{"year":2019,"size":87.5,"val":0.67,"sign":">0"},{"year":2019,"size":92.5,"val":0.12,"sign":"<0"},{"year":2019,"size":97.5,"val":0.71,"sign":"<0"},{"year":2019,"size":102.5,"val":0},{"year":2019,"size":107.5,"val":0},
{"year":2019,"size":112.5,"val":0},{"year":2019,"size":117.5,"val":0},{"year":2019,"size":122.5,"val":0},{"year":2019,"size":127.5,"val":0},{"year":2019,"size":132.5,"val":0},{"year":2019,"size":137.5,"val":0},{"year":2019,"size":142.5,"val":0},{"year":2019,"size":147.5,"val":0},{"year":2019,"size":152.5,"val":0},{"year":2019,"size":157.5,"val":0},{"year":2019,"size":162.5,"val":0},{"year":2019,"size":167.5,"val":0},{"year":2019,"size":172.5,"val":0},{"year":2019,"size":177.5,"val":0},{"year":2019,"size":182.5,"val":0},
{"year":2020,"size":27.5,"val":0},{"year":2020,"size":32.5,"val":0},{"year":2020,"size":37.5,"val":0},{"year":2020,"size":42.5,"val":0},{"year":2020,"size":47.5,"val":0},{"year":2020,"size":52.5,"val":0},
{"year":2020,"size":57.5,"val":0.14,"sign":"<0"},{"year":2020,"size":62.5,"val":0.16,"sign":"<0"},{"year":2020,"size":67.5,"val":0.12,"sign":"<0"},{"year":2020,"size":72.5,"val":0.22,"sign":"<0"},{"year":2020,"size":77.5,"val":0.25,"sign":"<0"},{"year":2020,"size":82.5,"val":0.22,"sign":"<0"},{"year":2020,"size":87.5,"val":0.22,"sign":"<0"},{"year":2020,"size":92.5,"val":0.1,"sign":"<0"},{"year":2020,"size":97.5,"val":0.2,"sign":"<0"},{"year":2020,"size":102.5,"val":0.16,"sign":"<0"},{"year":2020,"size":107.5,"val":0.12,"sign":"<0"},
{"year":2020,"size":112.5,"val":0},{"year":2020,"size":117.5,"val":0},{"year":2020,"size":122.5,"val":0},{"year":2020,"size":127.5,"val":0},{"year":2020,"size":132.5,"val":0},{"year":2020,"size":137.5,"val":0},{"year":2020,"size":142.5,"val":0},{"year":2020,"size":147.5,"val":0},{"year":2020,"size":152.5,"val":0},{"year":2020,"size":157.5,"val":0},{"year":2020,"size":162.5,"val":0},{"year":2020,"size":167.5,"val":0},{"year":2020,"size":172.5,"val":0},{"year":2020,"size":177.5,"val":0},{"year":2020,"size":182.5,"val":0},
{"year":2021,"size":27.5,"val":0},{"year":2021,"size":32.5,"val":0},{"year":2021,"size":37.5,"val":0},{"year":2021,"size":42.5,"val":0},{"year":2021,"size":47.5,"val":0},{"year":2021,"size":52.5,"val":0},
{"year":2021,"size":57.5,"val":0},{"year":2021,"size":62.5,"val":0},{"year":2021,"size":67.5,"val":0},{"year":2021,"size":72.5,"val":0},{"year":2021,"size":77.5,"val":0.28,"sign":"<0"},{"year":2021,"size":82.5,"val":0.16,"sign":">0"},{"year":2021,"size":87.5,"val":0.14,"sign":"<0"},{"year":2021,"size":92.5,"val":0.22,"sign":">0"},{"year":2021,"size":97.5,"val":0.34,"sign":">0"},{"year":2021,"size":102.5,"val":0.22,"sign":">0"},{"year":2021,"size":107.5,"val":0.2,"sign":">0"},
{"year":2021,"size":112.5,"val":0},{"year":2021,"size":117.5,"val":0},{"year":2021,"size":122.5,"val":0},{"year":2021,"size":127.5,"val":0},{"year":2021,"size":132.5,"val":0},{"year":2021,"size":137.5,"val":0},{"year":2021,"size":142.5,"val":0},{"year":2021,"size":147.5,"val":0},{"year":2021,"size":152.5,"val":0},{"year":2021,"size":157.5,"val":0},{"year":2021,"size":162.5,"val":0},{"year":2021,"size":167.5,"val":0},{"year":2021,"size":172.5,"val":0},{"year":2021,"size":177.5,"val":0},{"year":2021,"size":182.5,"val":0}
]},
"vconcat":[
{"width":1319,"height":39,"view":{"fill":"#CCCCCC","stroke":null},
 "data":{"values":[{"label":"22.03b3"}]},
 "mark":{"type":"text","fontSize":23,"color":"#1A1A1A","align":"center","baseline":"middle","font":"Liberation Sans"},
 "encoding":{"text":{"field":"label","type":"nominal"}}},
{"hconcat":[
 {"width":1319,"height":1021,"view":{"stroke":"black","strokeWidth":4},
  "data":{"name":"grid"},
  "encoding":{
   "x":{"field":"year","type":"quantitative","scale":{"domain":[1988.45,2022.55],"nice":false,"zero":false},"axis":{"values":[1990,2000,2010,2020],"format":"d","title":"year","labelPadding":4,"titlePadding":6}},
   "y":{"field":"size","type":"quantitative","scale":{"domain":[19.75,190.25],"nice":false,"zero":false},"axis":{"values":[50,100,150],"title":"size (mm CW)","labelPadding":8,"titlePadding":12}}
  },
  "layer":[
   {"transform":[{"filter":"datum.val == 0"}],
    "mark":{"type":"circle","size":14,"color":"black","opacity":1}},
   {"transform":[{"filter":"datum.val > 0"}],
    "mark":{"type":"circle","stroke":"black","strokeWidth":1.8,"fillOpacity":0.8,"opacity":1},
    "encoding":{
     "size":{"field":"val","type":"quantitative","scale":{"domain":[0,6],"range":[2,2830]},
       "legend":{"title":"val","orient":"none","legendX":1461,"legendY":344,"values":[0,1,2,3,4,5,6],"rowPadding":9,"symbolOffset":11,"symbolStrokeColor":"black","symbolFillColor":"white","symbolStrokeWidth":1.8,"labelOffset":24,
         "encode":{"symbols":{"update":{"fill":{"value":"white"},"stroke":{"value":"black"},"fillOpacity":{"value":1},"opacity":{"value":1}}}}}},
     "fill":{"field":"sign","type":"nominal","scale":{"domain":["<0",">0"],"range":["#0A829A","#73E600"]},
       "legend":{"title":"sign","orient":"none","legendX":1594,"legendY":344,"symbolSize":1250,"symbolOffset":5,"symbolStrokeColor":"black","symbolStrokeWidth":1.8,"rowPadding":6,"labelOffset":18,
         "encode":{"symbols":{"update":{"fillOpacity":{"value":1},"opacity":{"value":1},"stroke":{"value":"black"}}}}}}
    }}
  ]},
 {"width":112,"height":1021,"view":{"fill":"#CCCCCC","stroke":null},
  "data":{"values":[{"label":"female\nall maturity\nall shell"}]},
  "mark":{"type":"text","angle":90,"fontSize":23,"lineHeight":36,"lineBreak":"\n","color":"#1A1A1A","align":"center","baseline":"middle","dy":-36,"font":"Liberation Sans"},
  "encoding":{"text":{"field":"label","type":"nominal"}}}
 ],"spacing":0,"bounds":"flush"}
]
}
